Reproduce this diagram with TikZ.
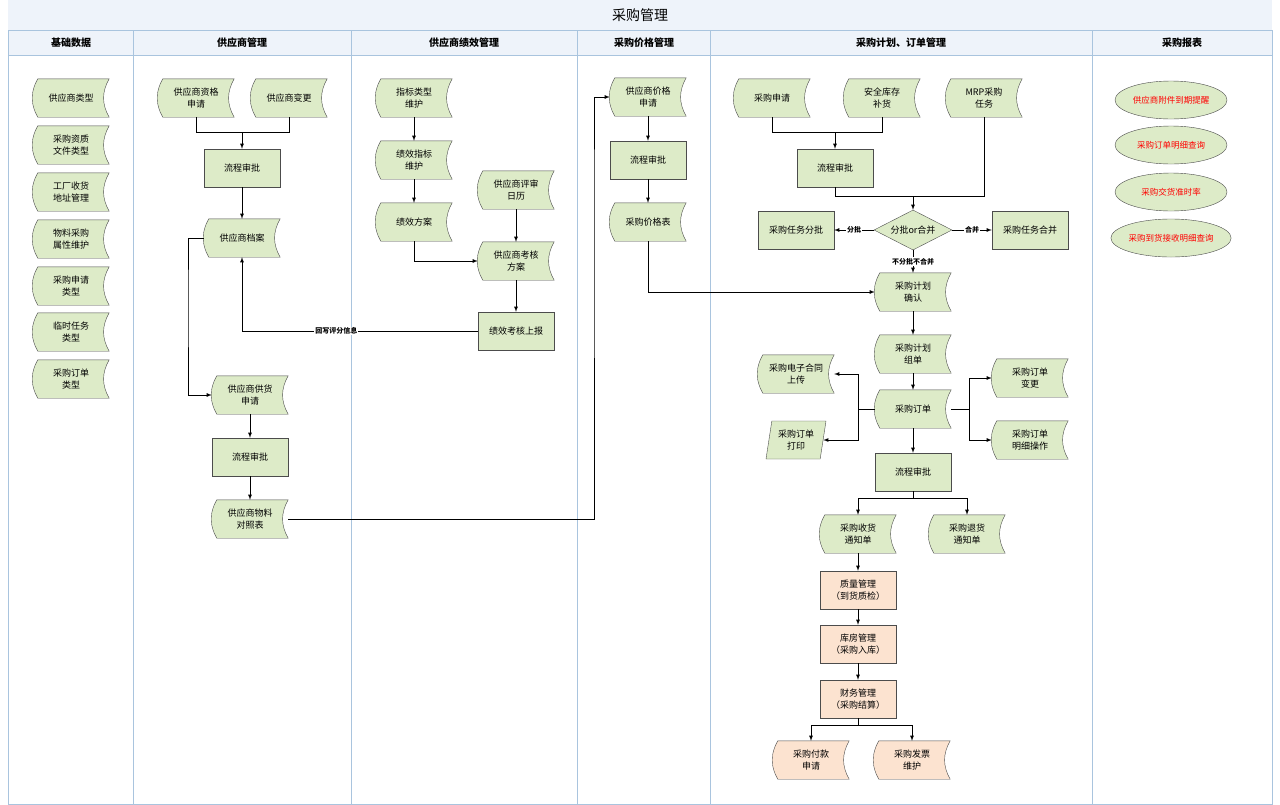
\documentclass[tikz,border=0pt]{standalone}
\usepackage{fontspec}
\setmainfont{Noto Sans CJK SC}
\usetikzlibrary{shapes.geometric, backgrounds, calc}
\definecolor{lgreen}{HTML}{DDEBC8}
\definecolor{lorange}{HTML}{FCE3D0}
\definecolor{lane}{HTML}{A9C4DE}
\definecolor{head}{HTML}{EEF3FA}
\newcommand\docpath[1]{($(#1.north west)+(5,0)$) to[bend right=30] ($(#1.south west)+(5,0)$) -- (#1.south east) to[bend left=30] (#1.north east) -- cycle}
\begin{document}
\begin{tikzpicture}
  [
    x=1pt, y=-1pt,
    box/.style={minimum width=76pt, minimum height=38pt, align=center, inner sep=1pt, font=\fontsize{9}{11.5}\selectfont},
    act/.style={box, draw=black!70, fill=lgreen},
    doc/.style={box},
    pgram/.style={box, trapezium, trapezium left angle=75, trapezium right angle=105, draw=black!70, fill=lgreen, minimum width=60pt, trapezium stretches body},
    choice/.style={diamond, aspect=2, draw=black!70, fill=lgreen, minimum width=78pt, minimum height=40pt, inner sep=0pt, font=\fontsize{9}{11}\selectfont},
    rep/.style={ellipse, draw=black!70, fill=lgreen, minimum width=112pt, minimum height=38pt, inner sep=0pt, text=red, font=\fontsize{8.5}{10}\selectfont},
    flow/.style={-latex, thick},
    tag/.style={font=\bfseries\fontsize{7}{8}\selectfont, fill=white, inner sep=1pt},
    lanehead/.style={font=\bfseries\fontsize{10}{12}\selectfont}
  ]
  \useasboundingbox (0,0) rectangle (1280,804);
  % lanes
  \fill[head] (8,0) rectangle (1272,55);
  \draw[lane] (8,30) rectangle (1272,804);
  \draw[lane] (8,55) -- (1272,55);
  \foreach \x in {133,351,577,710,1092} {
      \draw[lane] (\x,30) -- (\x,804);
  }
  \node[font=\fontsize{14}{16}\selectfont] (title) at (640,15) {采购管理};
  \foreach \x/\t in {71/基础数据,242/供应商管理,464/供应商绩效管理,644/采购价格管理,901/采购计划、订单管理,1182/采购报表} {
      \node[lanehead] at (\x,43) {\t};
  }
  % basic data
  \node[doc] (lx) at (71,98) {供应商类型};
  \node[doc] (zz) at (71,145) {采购资质\\文件类型};
  \node[doc] (gc) at (71,192) {工厂收货\\地址管理};
  \node[doc] (wl) at (71,239) {物料采购\\属性维护};
  \node[doc] (sqlx) at (71,286) {采购申请\\类型};
  \node[doc] (ls) at (71,332) {临时任务\\类型};
  \node[doc] (ddlx) at (71,379) {采购订单\\类型};
  % supplier
  \node[doc] (zgsq) at (196,98) {供应商资格\\申请};
  \node[doc] (bg) at (289,98) {供应商变更};
  \node[act] (lc1) at (242,168) {流程审批};
  \node[doc] (da) at (242,238) {供应商档案};
  \node[doc] (gh) at (250,395) {供应商供货\\申请};
  \node[act] (lc2) at (250,457) {流程审批};
  \node[doc] (dz) at (250,519) {供应商物料\\对照表};
  % performance
  \node[doc] (zb) at (414,98) {指标类型\\维护};
  \node[doc] (jx) at (414,160) {绩效指标\\维护};
  \node[doc] (fa) at (414,222) {绩效方案};
  \node[doc] (rl) at (516,190) {供应商评审\\日历};
  \node[doc] (kh) at (516,261) {供应商考核\\方案};
  \node[act] (sb) at (516,331) {绩效考核上报};
  % price
  \node[doc] (jgsq) at (648,97) {供应商价格\\申请};
  \node[act] (lc3) at (648,160) {流程审批};
  \node[doc] (jgb) at (648,222) {采购价格表};
  % plan & order
  \node[doc] (sq) at (772,98) {采购申请};
  \node[doc] (aq) at (882,98) {安全库存\\补货};
  \node[doc] (mrp) at (984,98) {MRP采购\\任务};
  \node[act] (lc4) at (835,168) {流程审批};
  \node[choice] (fh) at (913,230) {分批or合并};
  \node[act] (fp) at (796,230) {采购任务分批};
  \node[act] (hb) at (1030,230) {采购任务合并};
  \node[doc] (jhqr) at (913,292) {采购计划\\确认};
  \node[doc] (zd) at (913,354) {采购计划\\组单};
  \node[doc] (dd) at (913,409) {采购订单};
  \node[doc] (ht) at (796,374) {采购电子合同\\上传};
  \node[pgram] (dy) at (796,440) {采购订单\\打印};
  \node[doc] (bgd) at (1030,378) {采购订单\\变更};
  \node[doc] (mx) at (1030,440) {采购订单\\明细操作};
  \node[act] (lc5) at (913,472) {流程审批};
  \node[doc] (sh) at (858,534) {采购收货\\通知单};
  \node[doc] (th) at (967,534) {采购退货\\通知单};
  \node[act, fill=lorange] (zl) at (858,590) {质量管理\\（到货质检）};
  \node[act, fill=lorange] (kf) at (858,644) {库房管理\\（采购入库）};
  \node[act, fill=lorange] (cw) at (858,699) {财务管理\\（采购结算）};
  \node[doc] (fk) at (811,760) {采购付款\\申请};
  \node[doc] (fpwh) at (912,760) {采购发票\\维护};
  % reports
  \node[rep] (r1) at (1171,100) {供应商附件到期提醒};
  \node[rep] (r2) at (1171,145) {采购订单明细查询};
  \node[rep] (r3) at (1171,192) {采购交货准时率};
  \node[rep] (r4) at (1171,238) {采购到货接收明细查询};
  % document shapes
  \begin{scope}[on background layer]
    \foreach \n in {lx,zz,gc,wl,sqlx,ls,ddlx,zgsq,bg,da,gh,dz,zb,jx,fa,rl,kh,jgsq,jgb,sq,aq,mrp,jhqr,zd,dd,ht,bgd,mx,sh,th} {
        \draw[draw=black!70, fill=lgreen] \docpath{\n};
    }
    \foreach \n in {fk,fpwh} {
        \draw[draw=black!70, fill=lorange] \docpath{\n};
    }
  \end{scope}
  % supplier flow
  \draw[flow] (zgsq.south) |- (242,132) -| (lc1.north);
  \draw[thick] (bg.south) |- (242,132);
  \draw[flow] (lc1) -- (da);
  \draw[flow] (da.west) -| (188,300) |- (gh.west);
  \draw[flow] (gh) -- (lc2);
  \draw[flow] (lc2) -- (dz);
  \draw[flow] (dz.east) -| (594,200) |- (jgsq.west);
  % performance flow
  \draw[flow] (zb) -- (jx);
  \draw[flow] (jx) -- (fa);
  \draw[flow] (fa.south) |- (kh.west);
  \draw[flow] (rl) -- (kh);
  \draw[flow] (kh) -- (sb);
  \draw[flow] (sb.west) -| node[tag, pos=0.3] {回写评分信息} (da.south);
  % price flow
  \draw[flow] (jgsq) -- (lc3);
  \draw[flow] (lc3) -- (jgb);
  \draw[flow] (jgb.south) |- (jhqr.west);
  % plan flow
  \draw[flow] (sq.south) |- (835,132) -- (lc4.north);
  \draw[thick] (aq.south) |- (835,132);
  \draw[flow] (lc4.south) |- (913,196) -- (fh.north);
  \draw[thick] (mrp.south) |- (913,196);
  \draw[flow] (fh.west) -- node[tag] {分批} (fp.east);
  \draw[flow] (fh.east) -- node[tag] {合并} (hb.west);
  \draw[flow] (fh.south) -- node[tag] {不分批不合并} (jhqr.north);
  \draw[flow] (jhqr) -- (zd);
  \draw[flow] (zd) -- (dd);
  \draw[flow] (dd.west) -- (858,409) |- (ht.east);
  \draw[flow] (858,409) |- (dy.east);
  \draw[flow] (dd.east) -- (969,409) |- (bgd.west);
  \draw[flow] (969,409) |- (mx.west);
  \draw[flow] (dd) -- (lc5);
  \draw[flow] (lc5.south) -- (913,498) -| (sh.north);
  \draw[flow] (913,498) -| (th.north);
  \draw[flow] (sh) -- (zl);
  \draw[flow] (zl) -- (kf);
  \draw[flow] (kf) -- (cw);
  \draw[flow] (cw.south) -- (858,725) -| (fk.north);
  \draw[flow] (858,725) -| (fpwh.north);
\end{tikzpicture}
\end{document}
